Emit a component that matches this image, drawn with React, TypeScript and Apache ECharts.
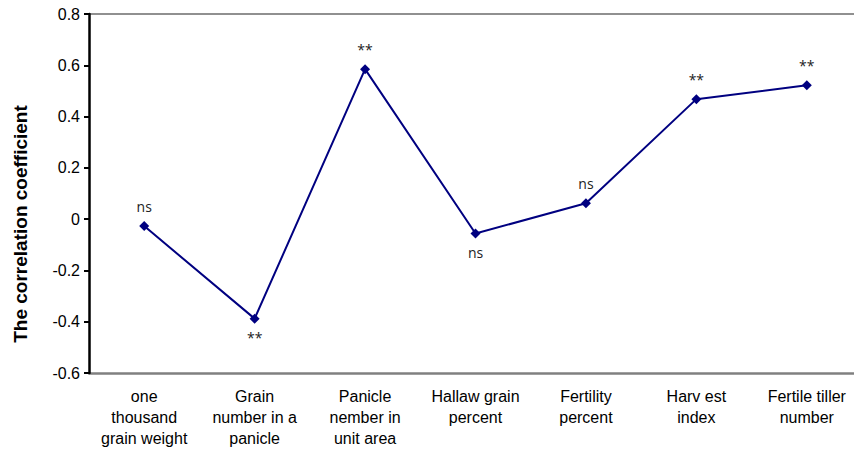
import React, { useEffect, useRef } from "react";
import * as echarts from "echarts";

const categories = [
  "one\nthousand\ngrain weight",
  "Grain\nnumber in a\npanicle",
  "Panicle\nnember in\nunit area",
  "Hallaw grain\npercent",
  "Fertility\npercent",
  "Harv est\nindex",
  "Fertile tiller\nnumber",
];
const values = [-0.027, -0.388, 0.585, -0.056, 0.062, 0.468, 0.522];
const significance = ["ns", "**", "**", "ns", "ns", "**", "**"];
const labelPlacement = ["top", "bottom", "top", "bottom", "top", "top", "top"];
const yTitle = "The correlation coefficient";

export default function App() {
  const ref = useRef<HTMLDivElement>(null);
  useEffect(() => {
    if (!ref.current) return;
    const chart = echarts.init(ref.current, null, { renderer: "svg" });
    const data = values.map((v, i) => ({
      value: v,
      label: {
        show: true,
        position: labelPlacement[i] as any,
        distance: labelPlacement[i] === "top" ? 8 : 7,
        formatter: significance[i],
        fontFamily: "Open Sans",
        fontSize: 14,
        color: "#222",
      },
    }));
    chart.setOption({
      animation: false,
      backgroundColor: "#fff",
      grid: {
        left: 89,
        width: 773,
        top: 14,
        bottom: 77,
        containLabel: false,
        outerBoundsMode: "none",
      },
      xAxis: {
        type: "category",
        data: categories,
        boundaryGap: true,
        axisLine: { show: true, onZero: false, lineStyle: { color: "#808080", width: 2.5 } },
        axisTick: { show: false },
        axisLabel: {
          interval: 0,
          fontFamily: "Liberation Sans",
          fontSize: 16,
          color: "#000",
          lineHeight: 21,
          margin: 13,
          hideOverlap: false,
        },
        splitLine: { show: false },
      },
      yAxis: {
        type: "value",
        min: -0.6,
        max: 0.8,
        interval: 0.2,
        z: 5,
        axisLine: { show: true, onZero: false, lineStyle: { color: "#000000", width: 2.5, type: "solid" } },
        axisTick: { show: true, length: 5, lineStyle: { color: "#000", width: 2 } },
        axisLabel: {
          fontFamily: "Liberation Sans",
          fontSize: 16,
          color: "#000",
          margin: 9,
          formatter: (v: number) => {
            const r = Math.round(v * 10) / 10;
            return r === 0 ? "0" : r.toFixed(1);
          },
        },
        splitLine: { show: false },
      },
      graphic: [
        {
          type: "line",
          shape: { x1: 89, y1: 14, x2: 854, y2: 14 },
          style: { stroke: "#909090", lineWidth: 2 },
          z: 0,
        },
        {
          type: "text",
          x: 20,
          y: 224,
          rotation: Math.PI / 2,
          style: {
            text: yTitle,
            fontFamily: "Liberation Sans",
            fontWeight: "bold",
            fontSize: 19,
            fill: "#000",
            align: "center",
            verticalAlign: "middle",
          },
        },
      ],
      series: [
        {
          type: "line",
          data,
          symbol: "diamond",
          symbolSize: 10,
          lineStyle: { color: "#000080", width: 2 },
          itemStyle: { color: "#000080" },
        },
      ],
    });
    return () => chart.dispose();
  }, []);
  return <div ref={ref} style={{ width: 854, height: 450, position: "absolute", left: 0, top: 0 }} />;
}
